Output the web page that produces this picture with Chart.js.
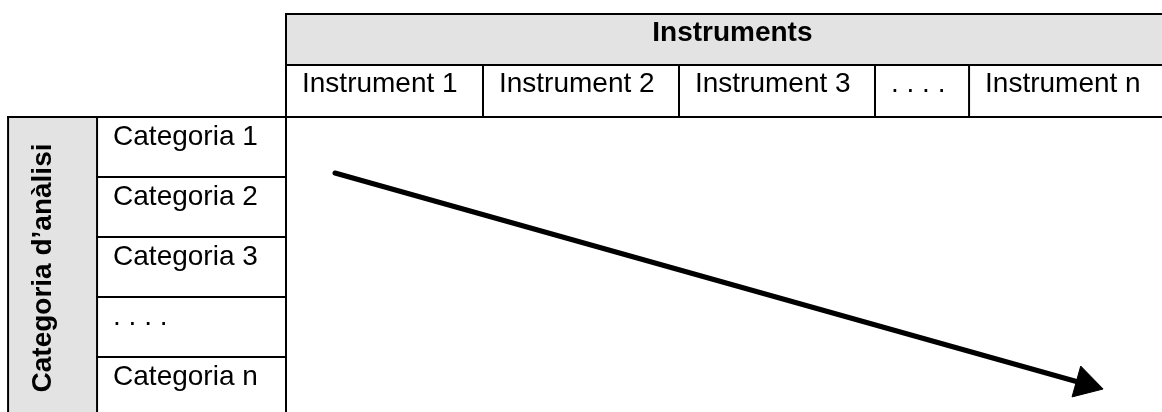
<!DOCTYPE html>
<html><head><meta charset="utf-8">
<script src="https://cdn.jsdelivr.net/npm/chart.js@4/dist/chart.umd.min.js"></script>
<style>html,body{margin:0;padding:0;background:#fff;overflow:hidden}canvas{display:block}</style>
</head><body>
<canvas id="c" width="1162" height="412"></canvas>
<script>
// ---- content / data ----
const headerTitle = 'Instruments';
const instruments = ['Instrument 1', 'Instrument 2', 'Instrument 3', '. . . .', 'Instrument n'];
const sideTitle = 'Categoria d\u2019anàlisi';
const categories = ['Categoria 1', 'Categoria 2', 'Categoria 3', '. . . .', 'Categoria n'];
// arrow in table units (x: instrument columns, y: category rows)
const arrowX = [0.25, 4.078];
const arrowY = [0.933, 4.45];

// ---- layout (table units, not data) ----
const colWidths = [1.005, 1, 1, 0.48, 1.07];
const rowHeights = [1, 1, 1, 1, 1];
const headerTop = -1.717, headerMid = -0.867;
const sideLeft = -1.418, sideMid = -0.964;
const FONT = '"Liberation Sans", Arial, sans-serif';

const tablePlugin = {
  id: 'table',
  beforeDatasetsDraw(chart) {
    const ctx = chart.ctx, X = chart.scales.x, Y = chart.scales.y;
    const px = v => X.getPixelForValue(v), py = v => Y.getPixelForValue(v);
    const colEdges = [0]; colWidths.forEach(w => colEdges.push(colEdges[colEdges.length - 1] + w));
    const rowEdges = [0]; rowHeights.forEach(h => rowEdges.push(rowEdges[rowEdges.length - 1] + h));
    const left = px(0), right = px(colEdges[colEdges.length - 1]);
    const top = py(0), bottom = py(rowEdges[rowEdges.length - 1]);
    ctx.save();
    ctx.fillStyle = '#e3e3e3';
    ctx.fillRect(left, py(headerTop), right - left, py(headerMid) - py(headerTop));
    ctx.fillRect(px(sideLeft), top, px(sideMid) - px(sideLeft), bottom - top);
    ctx.strokeStyle = '#000'; ctx.lineWidth = 2; ctx.lineCap = 'square';
    const L = (x1, y1, x2, y2) => { ctx.beginPath(); ctx.moveTo(x1, y1); ctx.lineTo(x2, y2); ctx.stroke(); };
    L(left, py(headerTop), right, py(headerTop));
    L(left, py(headerMid), right, py(headerMid));
    L(px(sideLeft), top, right, top);
    L(left, py(headerTop), left, bottom);
    L(px(sideLeft), top, px(sideLeft), bottom);
    L(px(sideMid), top, px(sideMid), bottom);
    for (let i = 1; i < colEdges.length - 1; i++) L(px(colEdges[i]), py(headerMid), px(colEdges[i]), top);
    for (let j = 1; j < rowEdges.length - 1; j++) L(px(sideMid), py(rowEdges[j]), left, py(rowEdges[j]));

    ctx.fillStyle = '#000';
    ctx.textBaseline = 'alphabetic';
    ctx.font = 'bold 28px ' + FONT;
    ctx.textAlign = 'center';
    ctx.fillText(headerTitle, (left + right) / 2, py(headerTop) + 27);
    ctx.font = '28px ' + FONT;
    ctx.textAlign = 'left';
    instruments.forEach((t, i) => ctx.fillText(t, px(colEdges[i]) + 16, py(headerMid) + 27.5));
    categories.forEach((t, j) => ctx.fillText(t, px(sideMid) + 16, py(rowEdges[j]) + 28));
    ctx.save();
    ctx.font = 'bold 28px ' + FONT;
    ctx.textAlign = 'center';
    ctx.translate(px(sideLeft) + 43, (top + bottom) / 2 + 1);
    ctx.rotate(-Math.PI / 2);
    ctx.fillText(sideTitle, 0, 0);
    ctx.restore();
    ctx.restore();
  }
};

new Chart(document.getElementById('c'), {
  type: 'line',
  data: {
    datasets: [{
      data: arrowX.map((x, i) => ({ x: x, y: arrowY[i] })),
      borderColor: '#000', backgroundColor: '#000',
      borderWidth: 5, borderCapStyle: 'round', tension: 0, fill: false,
      pointStyle: 'triangle',
      pointRadius: c => c.dataIndex === arrowX.length - 1 ? 18.5 : 0,
      pointBorderWidth: 1, pointBackgroundColor: '#000', pointBorderColor: '#000',
      pointRotation: c => {
        const X = c.chart.scales.x, Y = c.chart.scales.y, n = arrowX.length - 1;
        const dx = X.getPixelForValue(arrowX[n]) - X.getPixelForValue(arrowX[n - 1]);
        const dy = Y.getPixelForValue(arrowY[n]) - Y.getPixelForValue(arrowY[n - 1]);
        return 90 + Math.atan2(dy, dx) * 180 / Math.PI;
      }
    }]
  },
  options: {
    responsive: false, animation: false, events: [], devicePixelRatio: 1,
    layout: { padding: 0, autoPadding: false },
    plugins: { legend: { display: false }, tooltip: { enabled: false } },
    scales: {
      x: { type: 'linear', display: false, min: -286 / 196, max: 876 / 196 },
      y: { type: 'linear', display: false, reverse: true, min: -117 / 60, max: 295 / 60 }
    }
  },
  plugins: [tablePlugin]
});
</script>
</body></html>
